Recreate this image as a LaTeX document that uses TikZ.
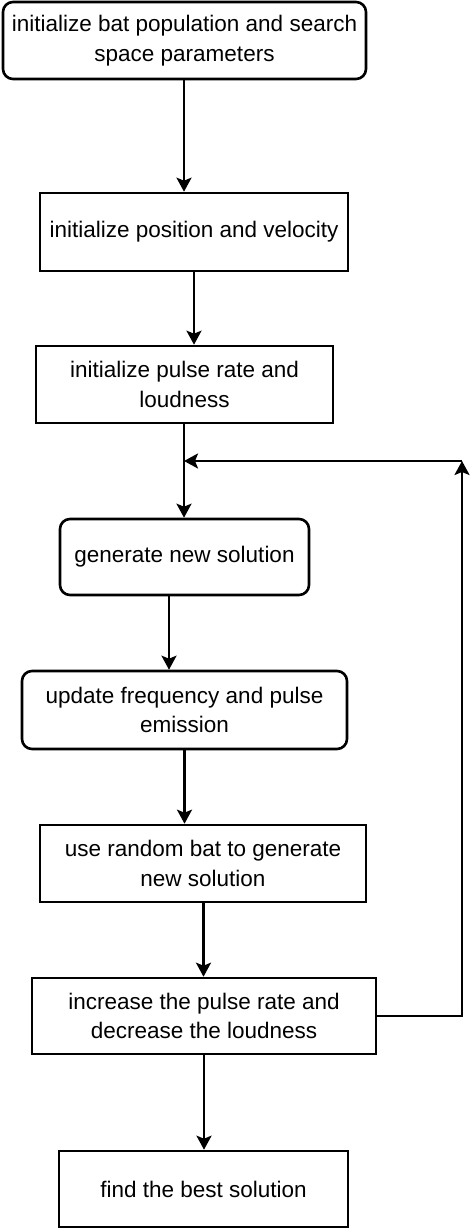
\documentclass[tikz,border=0pt]{standalone}
\usepackage{fontspec}
\setmainfont{Liberation Sans}
\usetikzlibrary{arrows.meta}
\begin{document}
\begin{tikzpicture}[x=1pt,y=-1pt,
  every node/.style={font=\fontsize{22.5}{29.5}\selectfont, align=center, inner sep=0pt, line width=2.6pt, draw=black},
  rbox/.style={rounded corners=10pt},
  sbox/.style={},
  conn/.style={line width=2.4pt, -{Stealth[length=14pt,width=15pt,inset=3pt]}},
  plain/.style={line width=2.4pt}
]
\useasboundingbox (0,0) rectangle (472,1230);
\node[rbox, minimum width=363pt, minimum height=77pt] (b1) at (184.5,40.5) {initialize bat population and search\\space parameters};
\node[sbox, minimum width=308pt, minimum height=78pt] (b2) at (194,232) {initialize position and velocity};
\node[sbox, minimum width=297pt, minimum height=77pt] (b3) at (184.5,384.5) {initialize pulse rate and\\loudness};
\node[rbox, minimum width=249pt, minimum height=76pt] (b4) at (184.5,557) {generate new solution};
\node[rbox, minimum width=325pt, minimum height=78pt] (b5) at (184.5,710) {update frequency and pulse\\emission};
\node[sbox, minimum width=326pt, minimum height=77pt] (b6) at (203,863.5) {use random bat to generate\\new solution};
\node[sbox, minimum width=344pt, minimum height=76pt] (b7) at (204,1016) {increase the pulse rate and\\decrease the loudness};
\node[sbox, minimum width=289pt, minimum height=76pt] (b8) at (203.5,1189) {find the best solution};
\coordinate (j) at (184,461);
\coordinate (c) at (462,461);
\draw[conn] ([xshift=-0.5pt]b1.south) -- ([xshift=-0.5pt]b1.south |- b2.north);
\draw[conn] (b2.south) -- (b2.south |- b3.north);
\draw[plain] ([xshift=-0.5pt]b3.south) -- (j);
\draw[conn] (j) -- (j |- b4.north);
\draw[conn] ([xshift=-15.5pt]b4.south) -- ([xshift=-15.5pt]b4.south |- b5.north);
\draw[conn] (b5.south) -- (b5.south |- b6.north);
\draw[conn] ([xshift=0.5pt]b6.south) -- ([xshift=0.5pt]b6.south |- b7.north);
\draw[conn] (b7.south) -- (b7.south |- b8.north);
\draw[conn] (b7.east) -| (c);
\draw[conn] (c) -- (j);
\end{tikzpicture}
\end{document}
